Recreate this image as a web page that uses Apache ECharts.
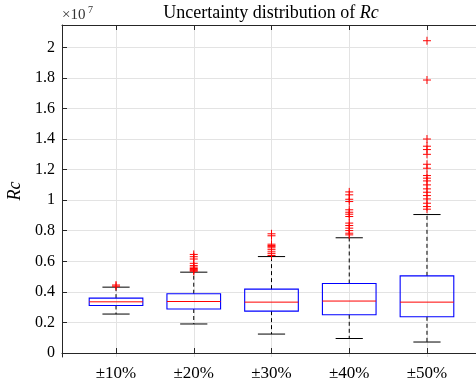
<!DOCTYPE html>
<html>
<head>
<meta charset="utf-8">
<script src="https://cdn.jsdelivr.net/npm/echarts@6/dist/echarts.min.js"></script>
<style>
html,body{margin:0;padding:0;background:#fff;}
#chart{width:476px;height:387px;}
</style>
</head>
<body>
<div id="chart"></div>
<script>
// Values are in units of 1e7 (axis shows ×10^7)
const categories = ['±10%', '±20%', '±30%', '±40%', '±50%'];
const xPos = [1, 2, 3, 4, 5];
const lowerWhisker = [0.255, 0.190, 0.124, 0.095, 0.072];
const q1 = [0.311, 0.288, 0.274, 0.250, 0.237];
const median = [0.335, 0.337, 0.333, 0.340, 0.333];
const q3 = [0.359, 0.388, 0.418, 0.455, 0.505];
const upperWhisker = [0.431, 0.529, 0.631, 0.754, 0.906];
const outliers10 = [0.445, 0.437];
const outliers20 = [0.645, 0.630, 0.615, 0.587, 0.572, 0.562, 0.553, 0.547, 0.541, 0.535];
const outliers30 = [0.780, 0.767, 0.712, 0.703, 0.696, 0.688, 0.676, 0.662, 0.650, 0.638];
const outliers40 = [1.054, 1.035, 1.006, 0.991, 0.937, 0.921, 0.908, 0.893, 0.850, 0.834, 0.817, 0.801, 0.784, 0.773];
const outliers50 = [2.043, 1.786, 1.400, 1.353, 1.331, 1.300, 1.235, 1.209, 1.161, 1.144, 1.126, 1.100, 1.074, 1.052, 1.030, 1.008, 0.980, 0.958, 0.941];
const yTicks = [0, 0.2, 0.4, 0.6, 0.8, 1, 1.2, 1.4, 1.6, 1.8, 2];

const outlierSets = [outliers10, outliers20, outliers30, outliers40, outliers50];
const boxData = xPos.map((x, i) => [x, lowerWhisker[i], q1[i], median[i], q3[i], upperWhisker[i]]);
const outlierData = [];
outlierSets.forEach((arr, i) => arr.forEach(v => outlierData.push([xPos[i], v])));

const FONT = 'Liberation Serif';
const AX = '#262626';
const GRID = '#e3e3e3';

const chart = echarts.init(document.getElementById('chart'));
chart.setOption({
  animation: false,
  backgroundColor: '#fff',
  grid: {left: 62, top: 25, width: 419, height: 332, containLabel: false, outerBoundsMode: 'none'},
  xAxis: [{
    type: 'value', min: 0.305, max: 5.695, position: 'bottom',
    axisLine: {show: true, lineStyle: {color: AX, width: 1}},
    axisTick: {show: true, inside: true, length: 5, customValues: xPos, lineStyle: {color: AX}},
    axisLabel: {show: true, customValues: xPos, margin: 8, color: '#000', fontFamily: FONT, fontSize: 17,
      formatter: v => categories[xPos.indexOf(Math.round(v))]},
    splitLine: {show: true, lineStyle: {color: GRID, width: 1}}
  }, {
    type: 'value', min: 0.305, max: 5.695, position: 'top',
    axisLine: {show: true, lineStyle: {color: AX, width: 1}},
    axisTick: {show: true, inside: true, length: 5, customValues: xPos, lineStyle: {color: AX}},
    axisLabel: {show: false},
    splitLine: {show: false}
  }],
  yAxis: [{
    type: 'value', min: -0.026, max: 2.146,
    name: 'Rc', nameLocation: 'middle', nameGap: 35,
    nameTextStyle: {fontFamily: FONT, fontStyle: 'italic', fontSize: 18, color: '#000'},
    axisLine: {show: true, lineStyle: {color: AX, width: 1}},
    axisTick: {show: true, inside: true, length: 5, customValues: yTicks, lineStyle: {color: AX}},
    axisLabel: {show: true, customValues: yTicks, margin: 7, color: '#000', fontFamily: FONT, fontSize: 16,
      formatter: v => String(Math.round(v * 10) / 10)},
    splitLine: {show: true, lineStyle: {color: GRID, width: 1}}
  }],
  graphic: [
    {type: 'text', x: 271, y: 13, style: {
      text: '{n|Uncertainty distribution of }{i|Rc}',
      align: 'center', verticalAlign: 'middle',
      rich: {n: {fontFamily: FONT, fontSize: 18, fill: '#000'}, i: {fontFamily: FONT, fontSize: 18, fontStyle: 'italic', fill: '#000'}}
    }},
    {type: 'text', x: 62, y: 8, style: {text: '×10', fontFamily: FONT, fontSize: 15, fill: '#333'}},
    {type: 'text', x: 88, y: 5, style: {text: '7', fontFamily: FONT, fontSize: 10, fill: '#333'}}
  ],
  series: [{
    type: 'custom',
    xAxisIndex: 0, yAxisIndex: 0,
    data: boxData,
    clip: false,
    renderItem: function (params, api) {
      const x = api.value(0);
      const halfBox = api.size([0.345, 0])[0];
      const halfCap = api.size([0.175, 0])[0];
      const pLo = api.coord([x, api.value(1)]);
      const pQ1 = api.coord([x, api.value(2)]);
      const pMed = api.coord([x, api.value(3)]);
      const pQ3 = api.coord([x, api.value(4)]);
      const pHi = api.coord([x, api.value(5)]);
      const cx = pMed[0];
      const dash = {stroke: '#000', lineWidth: 1, lineDash: [4, 3], fill: null};
      const solid = {stroke: '#000', lineWidth: 1, fill: null};
      return {
        type: 'group',
        children: [
          {type: 'line', shape: {x1: cx, y1: pQ3[1], x2: cx, y2: pHi[1]}, style: dash},
          {type: 'line', shape: {x1: cx, y1: pQ1[1], x2: cx, y2: pLo[1]}, style: dash},
          {type: 'line', shape: {x1: cx - halfCap, y1: pHi[1], x2: cx + halfCap, y2: pHi[1]}, style: solid},
          {type: 'line', shape: {x1: cx - halfCap, y1: pLo[1], x2: cx + halfCap, y2: pLo[1]}, style: solid},
          {type: 'rect', shape: {x: cx - halfBox, y: pQ3[1], width: 2 * halfBox, height: pQ1[1] - pQ3[1]},
            style: {stroke: '#0000ff', lineWidth: 1.1, fill: null}},
          {type: 'line', shape: {x1: cx - halfBox, y1: pMed[1], x2: cx + halfBox, y2: pMed[1]},
            style: {stroke: '#ff0000', lineWidth: 1, fill: null}}
        ]
      };
    }
  }, {
    type: 'custom',
    xAxisIndex: 0, yAxisIndex: 0,
    data: outlierData,
    clip: false,
    renderItem: function (params, api) {
      const p = api.coord([api.value(0), api.value(1)]);
      const s = 4;
      const st = {stroke: '#ff0000', lineWidth: 1, fill: null};
      return {
        type: 'group',
        children: [
          {type: 'line', shape: {x1: p[0] - s, y1: p[1], x2: p[0] + s, y2: p[1]}, style: st},
          {type: 'line', shape: {x1: p[0], y1: p[1] - s, x2: p[0], y2: p[1] + s}, style: st}
        ]
      };
    }
  }]
});
</script>
</body>
</html>
